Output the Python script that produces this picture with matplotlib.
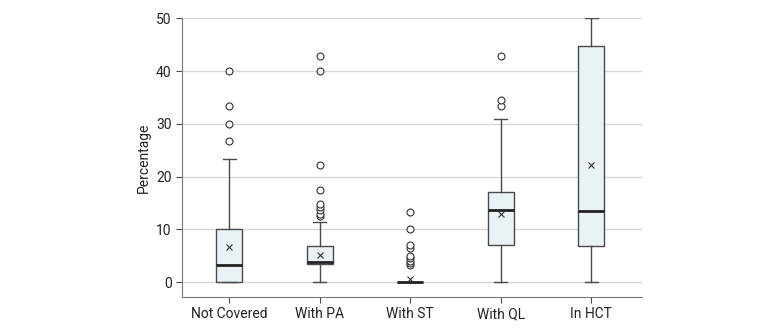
import matplotlib
matplotlib.use("Agg")
import matplotlib.pyplot as plt
import numpy as np

plt.rcParams['font.family'] = ['Roboto', 'DejaVu Sans']

categories = ["Not Covered", "With PA", "With ST", "With QL", "In HCT"]
whislo = [0, 0, 0, 0, 0]
q1 = [0, 3.4, 0, 7.0, 6.8]
med = [3.3, 3.9, 0, 13.7, 13.4]
q3 = [10.0, 6.8, 0, 17.1, 44.7]
whishi = [23.3, 11.5, 0, 31.0, 50.0]
means = [6.6, 5.1, 0.55, 13.0, 22.3]
fliers = [
    [26.7, 30.0, 33.3, 40.0],
    [12.5, 13.0, 13.6, 14.3, 14.8, 17.4, 22.2, 40.0, 42.9],
    [3.3, 3.6, 4.0, 4.5, 5.0, 6.5, 7.0, 10.0, 13.3],
    [33.3, 34.6, 42.9],
    [],
]

stats = []
for i, c in enumerate(categories):
    stats.append(dict(label=c, whislo=whislo[i], q1=q1[i], med=med[i], q3=q3[i],
                      whishi=whishi[i], mean=means[i], fliers=np.array(fliers[i])))

fig = plt.figure(figsize=(7.8, 3.3), dpi=100)
ax = fig.add_axes([182 / 780, 33 / 330, (642 - 182) / 780, (297 - 18.3) / 330])

edge = "#4a4a4a"
ax.bxp(stats, positions=range(len(categories)), widths=0.29, showmeans=True,
       patch_artist=True, zorder=3,
       boxprops=dict(facecolor="#e9f2f4", edgecolor=edge, linewidth=1.0),
       medianprops=dict(color="#222222", linewidth=2.0),
       whiskerprops=dict(color=edge, linewidth=1.0),
       capprops=dict(color=edge, linewidth=1.0),
       meanprops=dict(marker="x", markeredgecolor="#333333", markersize=5, markeredgewidth=0.8),
       flierprops=dict(marker="o", markerfacecolor="white", markeredgecolor="#333333",
                       markersize=5, markeredgewidth=0.8))

ax.set_ylim(-2.8, 50)
ax.set_xlim(-0.52, 4.56)
ax.set_yticks([0, 10, 20, 30, 40, 50])
ax.yaxis.grid(True, color="#d8d8d8", linewidth=1.0, zorder=0)
ax.set_axisbelow(True)
ax.set_ylabel("Percentage", fontsize=10, color="#222222")
ax.tick_params(axis="both", labelsize=10, colors="#222222", length=4, color=edge)
for s in ["top", "right"]:
    ax.spines[s].set_visible(False)
for s in ["left", "bottom"]:
    ax.spines[s].set_color("#777777")

fig.savefig("out.png", dpi=100)
